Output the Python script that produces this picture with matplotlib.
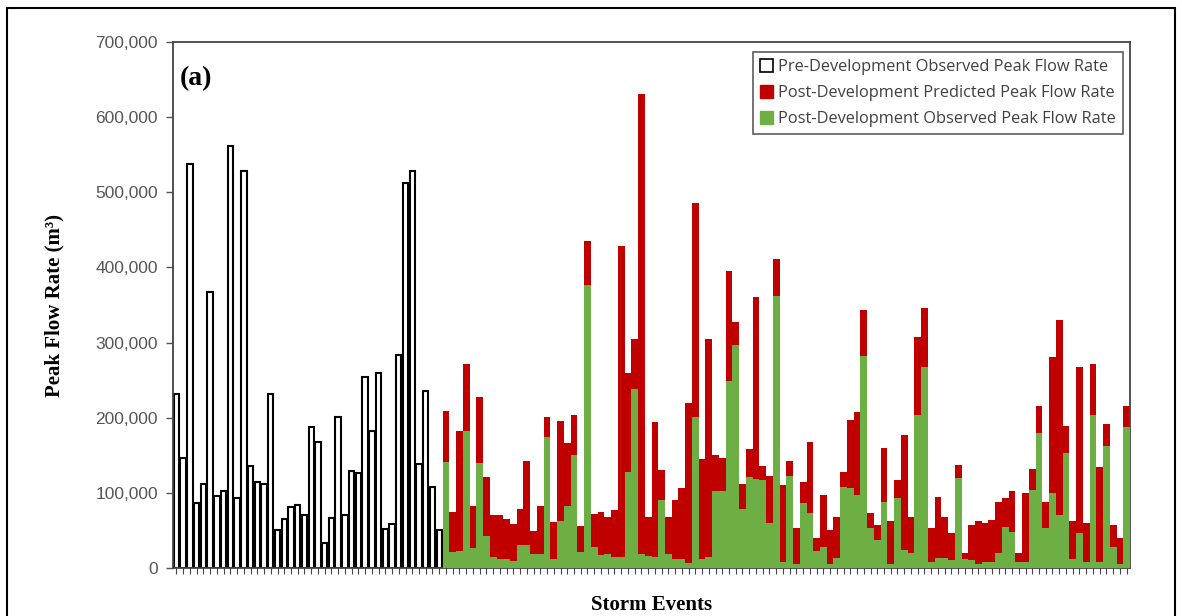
import matplotlib.pyplot as plt
from matplotlib.patches import Patch, Rectangle
from matplotlib.ticker import FuncFormatter
import numpy as np

# pre-development observed peak flow (thousand m3)
pre_obs = [231, 147, 537, 86, 112, 367, 96, 103, 561, 93, 529, 136, 114, 112, 232,
           51, 65, 81, 84, 71, 188, 168, 33, 66, 201, 71, 129, 126, 254, 182,
           259, 52, 58, 283, 512, 529, 138, 236, 108, 50]

# post-development predicted peak flow (thousand m3)
post_pred = [209, 75, 183, 272, 82, 227, 121, 71, 70, 65, 58, 79, 143, 49, 82,
             201, 61, 196, 166, 203, 56, 435, 72, 74, 68, 77,
             428, 259, 305, 631, 68, 194, 131, 68, 90, 107, 220, 486, 145, 305,
             150, 147, 395, 327, 112, 159, 360, 136, 122,
             411, 111, 142, 53, 114, 168, 40, 97, 51, 68, 128, 197, 208, 344, 73,
             57, 160, 62, 117, 177, 68, 308, 346, 53, 95, 68,
             46, 137, 20, 57, 62, 60, 64, 88, 93, 102, 20, 100, 132, 216, 88,
             281, 330, 189, 62, 268, 60, 272, 135, 191, 57, 40, 215]

# post-development observed peak flow (thousand m3)
post_obs = [141, 21, 23, 183, 26, 140, 42, 14, 12, 12, 9, 30, 30, 19, 19,
            175, 12, 63, 82, 150, 21, 376, 28, 17, 19, 14,
            14, 128, 238, 19, 16, 14, 91, 19, 12, 12, 7, 201, 12, 14,
            103, 103, 249, 297, 79, 121, 119, 117, 60,
            362, 8, 122, 5, 86, 73, 22, 28, 5, 13, 108, 106, 97, 282, 53,
            37, 88, 5, 93, 24, 20, 204, 268, 8, 13, 13,
            10, 120, 12, 10, 6, 8, 8, 20, 55, 48, 8, 8, 104, 180, 53,
            100, 71, 153, 12, 46, 8, 203, 8, 162, 28, 5, 188]

pre = np.array(pre_obs) * 1000
pred = np.array(post_pred) * 1000
obs = np.array(post_obs) * 1000

n_pre = len(pre)
n_post = len(pred)
x_pre = np.arange(n_pre)
x_post = np.arange(n_pre, n_pre + n_post)

fig = plt.figure(figsize=(11.82, 6.16), dpi=100)
ax = fig.add_axes([0.1464, 0.0779, 0.8096, 0.8539])

ax.bar(x_pre, pre, width=0.8, color='white', edgecolor='black', linewidth=1.5, zorder=2)
ax.bar(x_post, pred, width=1.0, color='#C00000', linewidth=0, zorder=2)
ax.bar(x_post, obs, width=1.0, color='#6DAE45', linewidth=0, zorder=3)

ax.set_xlim(-0.5, n_pre + n_post - 0.5)
ax.set_ylim(0, 700000)
ax.set_yticks(np.arange(0, 700001, 100000))
ax.yaxis.set_major_formatter(FuncFormatter(lambda v, p: f'{int(v):,}'))
ax.set_xticks(np.arange(n_pre + n_post))
ax.set_xticklabels([])
ax.tick_params(axis='x', direction='out', length=4, width=0.8, color='#444444')
ax.tick_params(axis='y', direction='out', length=5, width=1, color='#555555',
               labelsize=12.5, labelcolor='#555555', pad=6)
for lab in ax.get_yticklabels():
    lab.set_family('Liberation Sans')
for s in ax.spines.values():
    s.set_color('#444444')
    s.set_linewidth(1.3)

ax.set_ylabel('Peak Flow Rate (m³)', family='Liberation Serif', fontweight='bold',
              fontsize=15, labelpad=22)
ax.set_xlabel('Storm Events', family='Liberation Serif', fontweight='bold',
              fontsize=15, labelpad=12)
ax.text(0.007, 0.93, '(a)', transform=ax.transAxes, family='Liberation Serif',
        fontweight='bold', fontsize=20, va='center')

handles = [Patch(facecolor='white', edgecolor='black', linewidth=1.2),
           Patch(facecolor='#C00000', edgecolor='#C00000'),
           Patch(facecolor='#6DAE45', edgecolor='#6DAE45')]
labels = ['Pre-Development Observed Peak Flow Rate',
          'Post-Development Predicted Peak Flow Rate',
          'Post-Development Observed Peak Flow Rate']
leg = ax.legend(handles, labels, loc='upper right', bbox_to_anchor=(0.993, 0.981),
                borderaxespad=0, fancybox=False, edgecolor='#333333',
                prop={'family': 'Open Sans', 'size': 11.8},
                handlelength=0.8, handleheight=0.8, handletextpad=0.3,
                labelspacing=0.6, borderpad=0.45)
leg.get_frame().set_linewidth(1.2)
for t in leg.get_texts():
    t.set_color('#404040')

# outer frame around the figure
fig.patches.append(Rectangle((0.006, -0.01), 0.988, 0.997, transform=fig.transFigure,
                             fill=False, edgecolor='black', linewidth=1.5))

fig.savefig('out.png', dpi=100)
